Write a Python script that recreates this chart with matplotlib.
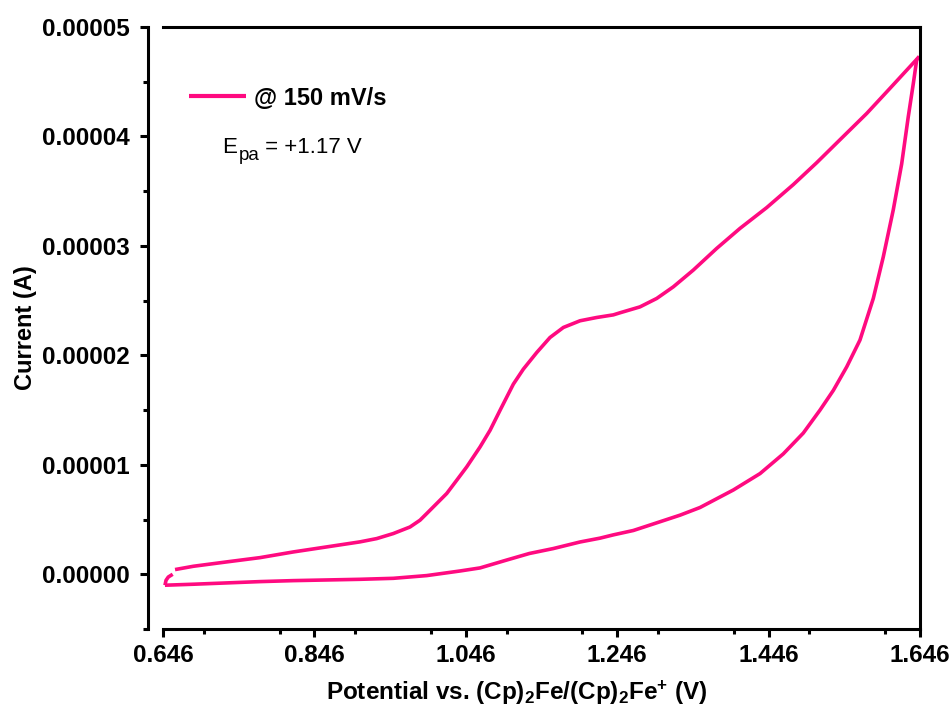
import matplotlib
matplotlib.use("Agg")
import matplotlib.pyplot as plt
from matplotlib.ticker import MultipleLocator, FormatStrFormatter

plt.rcParams["font.family"] = ["Liberation Sans", "DejaVu Sans"]
plt.rcParams["mathtext.fontset"] = "custom"
plt.rcParams["mathtext.rm"] = "Liberation Sans"
plt.rcParams["mathtext.it"] = "Liberation Sans:italic"
plt.rcParams["mathtext.bf"] = "Liberation Sans:bold"

# Cyclic voltammogram: potential in V, current in microampere
# low-current branch (0.646 V -> 1.646 V)
low_v = [0.6486, 0.686, 0.7301, 0.7741, 0.8181, 0.8622, 0.9062, 0.9502, 0.9944,
         1.0383, 1.0648, 1.100, 1.130, 1.1616, 1.1969, 1.2233, 1.2409, 1.2673,
         1.2850, 1.3114, 1.3290, 1.3554, 1.3994, 1.4347, 1.4654, 1.4918, 1.5139,
         1.5315, 1.5492, 1.5667, 1.5843, 1.5975, 1.6107, 1.6218, 1.6305, 1.6372,
         1.6416, 1.6450]
low_ua = [-1.00, -0.91, -0.79, -0.67, -0.58, -0.52, -0.46, -0.37, -0.12,
          0.30, 0.58, 1.30, 1.90, 2.35, 2.95, 3.30, 3.60, 4.00,
          4.40, 5.00, 5.40, 6.10, 7.70, 9.20, 11.0, 12.9, 15.0,
          16.8, 18.95, 21.4, 25.2, 29.0, 33.3, 37.5, 41.8, 44.85,
          46.98, 47.30]

# high-current branch (1.646 V -> 0.646 V)
high_v = [1.6450, 1.6064, 1.5756, 1.5403, 1.5095, 1.4786, 1.4435, 1.4082, 1.3774,
          1.3465, 1.3201, 1.2982, 1.2761, 1.2497, 1.2409, 1.2189, 1.1969, 1.1749,
          1.1572, 1.1397, 1.1220, 1.1088, 1.0913, 1.0781, 1.0648, 1.0472, 1.0340,
          1.0208, 0.9944, 0.9855, 0.9723, 0.9502, 0.9283, 0.9062, 0.8622, 0.8181,
          0.7741, 0.7301, 0.6860, 0.6619]
high_ua = [47.30, 44.40, 42.10, 39.70, 37.60, 35.60, 33.50, 31.60, 29.77,
           27.79, 26.26, 25.20, 24.43, 23.89, 23.70, 23.46, 23.16, 22.55,
           21.63, 20.26, 18.74, 17.37, 14.99, 13.16, 11.63, 9.81, 8.59,
           7.38, 5.55, 4.94, 4.32, 3.72, 3.26, 2.96, 2.50, 2.04,
           1.52, 1.13, 0.73, 0.43]

# short segment closing the loop at the start potential
tail_v = [0.6588, 0.6530, 0.6500, 0.6486]
tail_ua = [0.00, -0.25, -0.55, -1.00]

x_ticks = [0.646, 0.846, 1.046, 1.246, 1.446, 1.646]
legend_label = "@ 150 mV/s"
peak_parts = ["E", "pa", " = +1.17 V"]

color = "#FF0A80"
UA = 1e-6

fig = plt.figure(figsize=(9.52, 7.16), dpi=100)
ax = fig.add_axes([163 / 952, 1 - 629 / 716, 757 / 952, 602 / 716])

line_kw = dict(color=color, lw=2.6, solid_capstyle="butt", solid_joinstyle="round")
ax.plot(low_v, [c * UA for c in low_ua], label=legend_label, **line_kw)
ax.plot(high_v, [c * UA for c in high_ua], **line_kw)
ax.plot(tail_v, [c * UA for c in tail_ua], **line_kw)

ax.set_xlim(0.646, 1.646)
ax.set_ylim(-0.5e-5, 5e-5)
ax.set_xticks(x_ticks)
ax.xaxis.set_major_formatter(FormatStrFormatter("%.3f"))
ax.xaxis.set_minor_locator(MultipleLocator(0.1))
ax.yaxis.set_major_locator(MultipleLocator(1e-5))
ax.yaxis.set_minor_locator(MultipleLocator(0.5e-5))
ax.yaxis.set_major_formatter(FormatStrFormatter("%.5f"))

for s in ax.spines.values():
    s.set_linewidth(2.2)
ax.spines["left"].set_position(("outward", 10.8))

ax.tick_params(which="both", direction="out", width=2.2, top=False, right=False)
ax.tick_params(which="major", length=6, labelsize=17.5)
ax.tick_params(axis="x", which="major", pad=5)
ax.tick_params(axis="y", which="major", pad=7)
ax.tick_params(which="minor", length=3.5)
for lab in ax.get_xticklabels() + ax.get_yticklabels():
    lab.set_fontweight("bold")

ax.set_xlabel(r"Potential vs. (Cp)$_\mathbf{2}$Fe/(Cp)$_\mathbf{2}$Fe$^\mathbf{+}$ (V)",
              fontsize=17.5, fontweight="bold")
ax.xaxis.set_label_coords(0.4677, -0.083)
ax.set_ylabel("Current (A)", fontsize=17, fontweight="bold", labelpad=3.5)

leg = ax.legend(loc="center left", bbox_to_anchor=(0.0343, 0.882), frameon=False,
                borderpad=0, borderaxespad=0, handlelength=2.4, handletextpad=0.35,
                prop={"weight": "bold", "size": 17})
for h in leg.get_lines():
    h.set_linewidth(3.0)

# peak potential annotation with a full-height subscript
base_y = 0.7907
t_e = ax.text(0.078, base_y, peak_parts[0], transform=ax.transAxes, fontsize=16,
              va="baseline", ha="left")
t_sub = ax.annotate(peak_parts[1], xy=(1, base_y), xycoords=(t_e, ax.transAxes),
                    xytext=(1, -5), textcoords="offset points", fontsize=13.5,
                    va="baseline", ha="left")
ax.annotate(peak_parts[2], xy=(1, base_y), xycoords=(t_sub, ax.transAxes),
            xytext=(0, 0), textcoords="offset points", fontsize=16,
            va="baseline", ha="left")

fig.savefig("out.png", dpi=100)
